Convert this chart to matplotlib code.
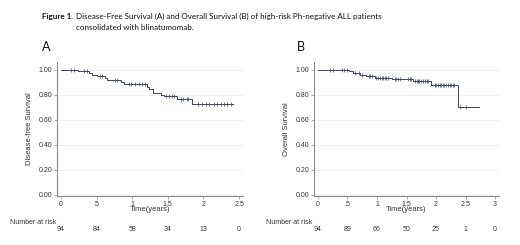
import numpy as np
import matplotlib
matplotlib.use('Agg')
import matplotlib.pyplot as plt
import matplotlib.transforms as mtransforms

# Panel A: disease-free survival (step times in years, survival after each step)
dfs_times = [0, 0.24, 0.40, 0.43, 0.51, 0.62, 0.64, 0.85, 0.89, 1.21, 1.24, 1.29, 1.41, 1.44, 1.63, 1.84, 2.41]
dfs_surv = [1.00, 0.987, 0.976, 0.96, 0.947, 0.93, 0.92, 0.90, 0.883, 0.86, 0.843, 0.81, 0.80, 0.787, 0.763, 0.725, 0.725]
dfs_censor = [0.14, 0.18, 0.32, 0.37, 0.55, 0.57, 0.76, 0.78, 0.95, 0.99, 1.04, 1.09, 1.14, 1.18,
              1.47, 1.51, 1.56, 1.58, 1.68, 1.72, 1.77, 1.79, 1.93, 1.98, 2.03, 2.08,
              2.15, 2.19, 2.24, 2.29, 2.33, 2.38]
dfs_risk_t = [0, 0.5, 1, 1.5, 2, 2.5]
dfs_risk_n = [94, 84, 58, 34, 13, 0]

# Panel B: overall survival
os_times = [0, 0.52, 0.60, 0.72, 0.82, 0.97, 1.26, 1.61, 1.92, 2.37, 2.72]
os_surv = [1.00, 0.987, 0.976, 0.96, 0.947, 0.936, 0.923, 0.907, 0.875, 0.70, 0.70]
os_censor = [0.21, 0.26, 0.41, 0.45, 0.49, 0.63, 0.69, 0.74, 0.86, 0.89, 0.91,
             0.99, 1.02, 1.05, 1.08, 1.11, 1.14, 1.16, 1.19, 1.30, 1.33, 1.36, 1.39,
             1.53, 1.56, 1.58, 1.64, 1.67, 1.69, 1.72, 1.75, 1.78, 1.81, 1.84, 1.86,
             1.98, 2.00, 2.03, 2.06, 2.09, 2.11, 2.14, 2.17, 2.20, 2.23, 2.26, 2.28, 2.31,
             2.40, 2.51]
os_risk_t = [0, 0.5, 1, 1.5, 2, 2.5, 3]
os_risk_n = [94, 89, 66, 50, 25, 1, 0]

yticks = [0, 0.2, 0.4, 0.6, 0.8, 1.0]

LINE = '#3a4760'
AXC = '#8a8a8a'
TXT = '#333333'
plt.rcParams['font.family'] = ['Liberation Sans', 'DejaVu Sans']

fig = plt.figure(figsize=(5.2, 2.45), dpi=100)


def km_panel(rect, times, surv, censor, risk_t, risk_n, xmax, ylabel):
    ax = fig.add_axes(rect)
    ax.step(times, surv, where='post', color=LINE, lw=0.7)
    idx = np.searchsorted(times, censor, side='right') - 1
    cy = np.array(surv)[idx]
    ax.plot(censor, cy, ls='none', marker='|', ms=3.5, mew=0.5, color=LINE)

    ax.set_xlim(-0.055 * xmax / 2.5, xmax + 0.055 * xmax / 2.5)
    ax.set_ylim(-0.01, 1.06)
    ax.set_yticks(yticks)
    ax.set_yticklabels([f'{v:.2f}' for v in yticks])
    ax.set_xticks(risk_t)
    ax.set_xticklabels(['0' if t == 0 else ('.5' if t == 0.5 else f'{t:g}') for t in risk_t])
    ax.grid(axis='y', color='#ececec', lw=0.5)
    ax.set_axisbelow(True)
    for s in ['top', 'right']:
        ax.spines[s].set_visible(False)
    for s in ['left', 'bottom']:
        ax.spines[s].set_color(AXC)
        ax.spines[s].set_linewidth(0.8)
    ax.tick_params(labelsize=5, colors=AXC, labelcolor=TXT, length=2, width=0.5, pad=1.5)
    ax.set_ylabel(ylabel, fontsize=5.5, color=TXT, labelpad=4)
    ax.set_xlabel('Time(years)', fontsize=5.5, color=TXT, labelpad=-1)

    trans = mtransforms.blended_transform_factory(ax.transData, fig.transFigure)
    for t, n in zip(risk_t, risk_n):
        ax.text(t, 1 - 229.5 / 245, str(n), transform=trans, ha='center', va='center',
                fontsize=5, color=TXT)
    return ax


km_panel([57 / 520, 1 - 196 / 245, 186 / 520, 134 / 245], dfs_times, dfs_surv, dfs_censor,
         dfs_risk_t, dfs_risk_n, 2.5, 'Disease-free Survival')
km_panel([314 / 520, 1 - 196 / 245, 185 / 520, 134 / 245], os_times, os_surv, os_censor,
         os_risk_t, os_risk_n, 3.0, 'Overall Survival')

fig.text(10 / 520, 1 - 222 / 245, 'Number at risk', fontsize=5, color=TXT, va='center')
fig.text(266 / 520, 1 - 222 / 245, 'Number at risk', fontsize=5, color=TXT, va='center')

# caption
fig.text(42 / 520, 1 - 16 / 245, 'Figure 1.', fontsize=5.8, fontweight='bold', family='Lato',
         va='center', color='#111111')
fig.text(76 / 520, 1 - 16 / 245,
         'Disease-Free Survival (A) and Overall Survival (B) of high-risk Ph-negative ALL patients',
         fontsize=5.8, family='Lato', va='center', color='#111111')
fig.text(76 / 520, 1 - 27.5 / 245, 'consolidated with blinatumomab.', fontsize=5.8, family='Lato',
         va='center', color='#111111')
fig.text(42 / 520, 1 - 47 / 245, 'A', fontsize=9, family='Lato', va='center', color='#111111')
fig.text(297 / 520, 1 - 47 / 245, 'B', fontsize=9, family='Lato', va='center', color='#111111')

fig.savefig('out.png', dpi=100)
